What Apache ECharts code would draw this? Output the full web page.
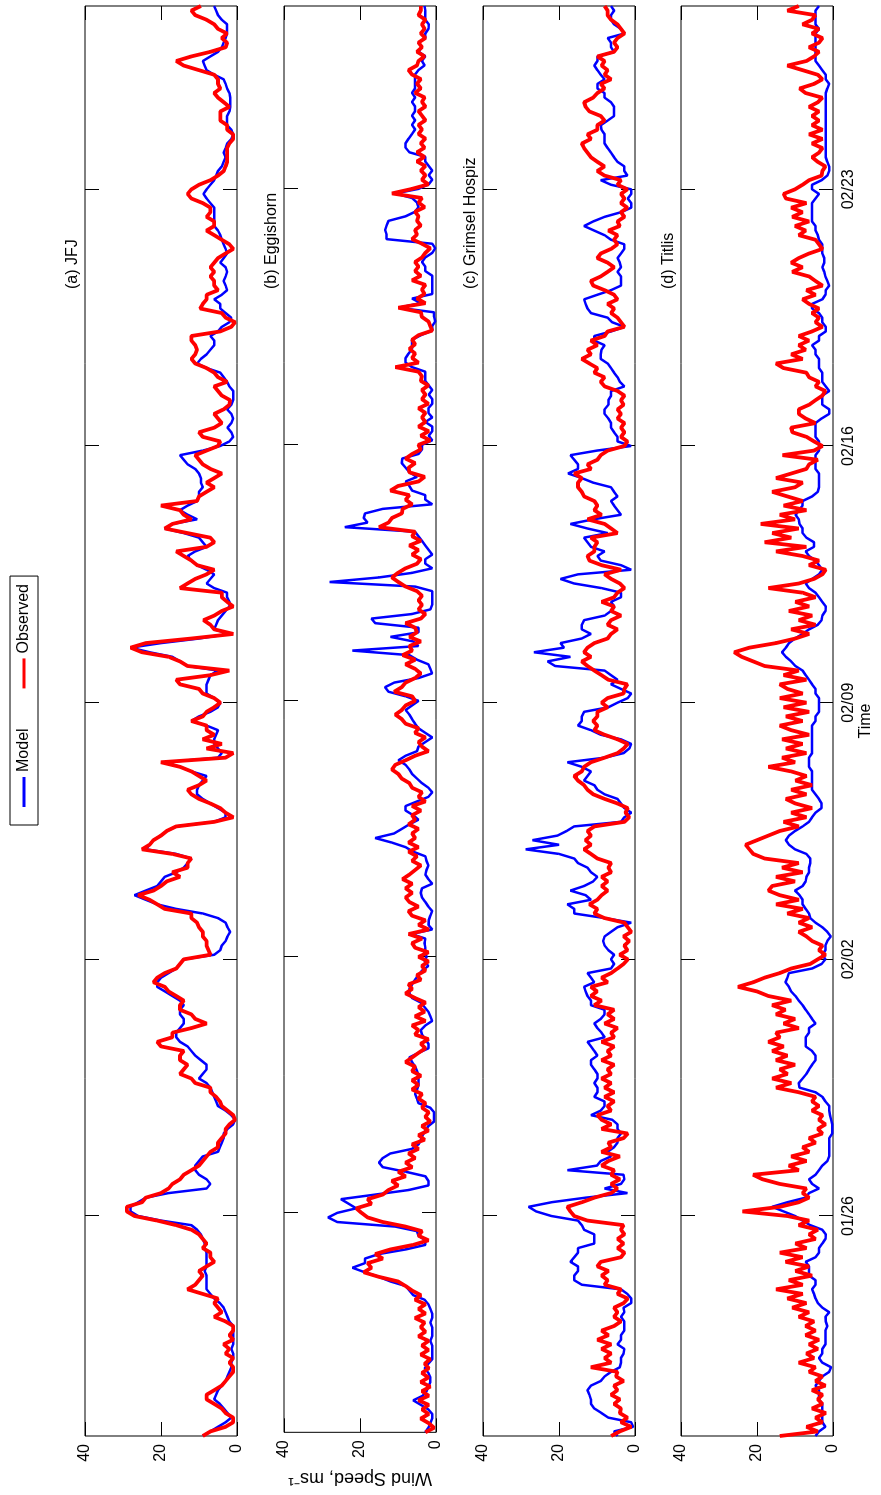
<!DOCTYPE html>
<html>
<head>
<meta charset="utf-8">
<title>Wind speed: model vs observed</title>
<script src="https://cdn.jsdelivr.net/npm/echarts@6/dist/echarts.min.js"></script>
<style>
html, body { margin: 0; padding: 0; background: #fff; }
body { width: 881px; height: 1495px; overflow: hidden; position: relative; }
/* the figure is drawn landscape and turned a quarter turn, like the printed page */
#main { position: absolute; left: 0; top: 0; width: 1495px; height: 881px;
  transform-origin: 0 0; transform: translate(0px, 1495px) rotate(-90deg); }
</style>
</head>
<body>
<div id="main"></div>
<script>
var FONT = '"Liberation Sans", Arial, Helvetica, sans-serif';
var STEP = 3; // hours between samples, starting 01/20 00:00

var tickHours = [144, 312, 480, 648, 816];
var tickLabels = ['01/26', '02/02', '02/09', '02/16', '02/23'];
var stations = ['(a) JFJ', '(b) Eggishorn', '(c) Grimsel Hospiz', '(d) Titlis'];

// (a) JFJ
var jfjModel = [
9,7,5,3,1.5,2.5,3.5,4.5,
6,5.5,5,4,3,2.5,2,1.5,
1.5,1,1,1.5,1,1,1,1,
1,2,2.5,3,3.5,4.5,6,7,
8,8,8,8,8.5,8,8,8,
8,8.5,8.5,9,9.5,10.5,12,20,
26,28,28,26,24,18,8,7,
8,10,11,11,10,9,5,4.5,
4,3.5,3.5,2.5,1,0.5,1.5,3,
5,5.5,6,6.5,7,8,10,9,
8,8,9.5,11,12,13,15,16,
16,15,14,14,15,15,14,15,
17,19,21,21,20,18,16,15,
14,6,4.4,4,3,2.5,1.8,2.5,
3,5,9,16,21,24,27,24,
21,20,19,16,14,13,12,16,
24,23,22,20,18.5,16,6,3,
3,5,7,9,10.5,10.5,10,9,
8,12,15,19,5,4,5,6,
6,5.5,5,8,12,10,7,5,
4.4,6,8,8,8,7.5,7,5,
13,15,17,23,28,20,10,2,
6,5.5,5,4,3,2,2,2.6,
2.6,6,8,7,6,8,10.5,12,
13,11,8,9,10,14,19,17,
10.5,13,15,13,10.5,10,10,9,
9.5,9.5,10,11,13,14,15,9,
4.4,2,1,1.5,2.5,1.5,1,1.5,
2.6,1.5,1,1,1,2,2.6,3.5,
4.4,8,10.5,9.5,8,7,6,6,
7,5,4,2,1.5,3,4.4,4.4,
6,4,2.6,3,3.5,3,2.6,3,
4.4,3.5,2.6,3,3.5,4,4.4,5,
6,6,6,6,6,7,8,8.8,
8,7,6,5.5,5,4,3.5,3,
3.5,3,2.6,1.5,1,1.5,2.6,2.6,
2.6,2,1.8,1.8,1.8,2,2.6,3,
3.5,6,8,8.5,9,7,5,4,
3.5,3,2.6,2.6,2.6,4,5,5.5,6
];
var jfjObs = [
9,7,3,1,1,3,4,6,
8,8,6,4,3,2,1,1,
2,1,3,2,3.5,1,2,1,
1,3,6,4,5,6,5,9,
13,11,10,9,10,8,6,7,
7,9,8,9,10,12,16,21,
27,29,29,25,24,20,18,17,
15,14,12,10,9,8,7,5,
5,4,3,3,2,0.5,1,2.5,
4,4.5,5.5,7,7,11,12,15,
14,13,15,15,14,20,21,17,
17,12,8,11,12,15,15,14,
16,18,19,22,21,19,16,15,
14,7,7.5,8,8,9,9,10,
10.5,12,12,19,21,23,26,22,
20,18.5,15,17,13,13,12,17,
25,23,22,20,18.5,16,6,1,
3,4.4,7,10,12,13,10,8,
10,12,15,20,3,1,8,4,
9,6,8,8,12,9,8,6,
4.4,6,9,10,15,16,7,2,
13,15,18,25,28,24,12,1,
6,7,8.8,6,4,1,2.6,4,
4,15,13,11,8,6,10.5,12,
14,16,8,6,7,13,19,17,
12,14,15,20,10.5,10,8,6,
8,6,4,7,9,10,11,8,
5,4.4,9,10,6,4,5,6,
3.5,2,1.8,4,5,6,2.6,5,
6,8,11,12,11,10.5,11,12,
12,4.4,1.5,0.5,3,4,9.7,9,
8,8,5,6,6,7,6,7,
6,5,3,1,2,4,6,8,
6,6,8,7,7,9,12,13,
12,10,7,5,3.5,3,2.6,2.6,
2.6,2.6,2,1,1,2.6,2.6,4.4,
4.4,4.4,2,3.5,5,6,4.4,5,
5,6,10,14,16,12,7,3,
2.6,4,2.6,5,6,8,11,12,9.5
];

// (b) Eggishorn
var eggModel = [
2.8,2,1.5,1,1,2,4,6,
3.5,2.5,2,1.5,1.5,2,3,2,
1,1,1,1,1.5,1,1,1,
1.5,1,1,1.5,2,3,6,7,
8,12,15,18.7,22,18.7,18.7,15,
8,2.8,2.8,4.6,5,10.7,26,28.4,
26,21,23,25,16,7.2,2,2,
2.8,8,14,15,14,12,6.3,4.6,
4,3.5,2.8,2,0.5,0.5,0.5,1.5,
4.6,5,5.5,5,4.6,4.6,4.6,5,
5.5,6.3,7,4.6,2,2,2.8,3.7,
4,2.8,1,1.5,2,3,4,6.3,
7,7,6.3,5.5,4.6,3.7,2,3,
2.5,2.8,2.8,3,2.8,6.5,1,2,
1.9,1.5,1,2,2.8,3.7,4,3.7,
1,2,2.8,2.5,2,2.5,2.8,6,
8,11.6,16,11,9,7,4.6,6,
8,8,5,2,1,2,3.7,5,
6.3,7,8,9.9,8,5,4.6,2.8,
1,2.8,4.6,5.5,6.3,7,8,6.3,
4.6,8,12.5,13.4,11,4.6,1,1.5,
2,5,7,22,4.6,6,12,4.6,
4.6,16,17,6.3,1.5,1,1,1,
1,5.5,28,15,6.3,1,2.8,2.8,
1,1.9,2.8,3.7,4.6,5.5,24,18,
19,18.7,14,1,2.8,2.8,6.3,7,
8,5,7,8,9,8.9,4.6,3.7,
3.7,1,1.9,1,1,2.8,1,2,
2,1,1,1.9,1,1.9,2.8,2.8,
2.8,6.3,8,8,7.2,6.3,6.3,6.3,
4,1,1,0.2,0.5,0.5,9.9,4,
6.3,1,1,1,1,1,2.8,2.8,
3.7,2.8,1,0.2,1,13,13,13.4,
13,12.5,8,5.5,4.6,5,6.3,10.7,
4.6,1.9,1,1.9,1,1.9,2.8,2.8,
7,8,8,7.2,6.3,5.5,6.3,5.5,
6.3,5.5,5.5,6.3,5.5,6.3,5.5,5.5,
5.5,5.5,4.6,3,3.7,2.8,4.6,3.7,
4.6,2.8,2.8,2,1.9,2.8,2.8,2.8,3
];
var eggObs = [
2.8,0.5,1.9,4,1.9,3.7,1.9,4.6,
1.9,3.7,1.5,4,2,3.7,1.9,3,
1.5,4,2,3.7,1.9,4.6,2.8,4,
3,5.5,2.8,4.6,2.8,5.5,4,6.3,
8,10,15,19,17,18,14,16,
12,6,2,4.6,3.7,8,14,18,
19.6,21,17,18,14,12.5,10,11.6,
8,9.9,6.3,8,5.5,7.2,4.6,6.3,
3,4.6,2,3.7,1.5,2.8,1.9,3.7,
2.8,4.6,3.7,6.3,4.6,6.3,4,6.3,
5.5,8,6.3,4.6,2.8,4,2,5.5,
4.6,6.3,2.8,5.5,3,4.6,2.8,5.5,
8,6.3,7.2,4,5,2.8,3.7,2,
4.6,2,5.5,6.3,3.7,7.2,1.9,4.6,
2.8,6.3,7.2,4.6,7,8,6.3,8,
6.3,8.8,7,5.5,4,6.3,5,7.2,
4.6,7.2,5.5,6.3,4.6,7.2,5.5,6.3,
4,6.3,2.8,4.6,3.7,6.3,7,9,
9.9,11.6,10.7,8,5.5,2,3.7,4.6,
2.8,5.5,4.6,8,9,10.7,9,8,
5.5,6.3,11,9,8,5.5,4,5.5,
8,5.5,8.8,6.3,7,4,7,5,
5.5,8,4,2.8,4.6,3.7,4.6,3.7,
5,8,9.9,11.6,10,8,5,4,
6.3,4.6,7,4,6.3,5.5,15,12.5,
11.6,9,8.8,6.3,8,7,12,10,
4.6,3,7,7.2,5.5,8,6.3,4,
4.6,1.5,4,1.9,4.6,2.8,3.7,2.8,
4.6,2,3.7,2.8,3.7,2,4,3.7,
4.6,10.7,4.6,6.3,5.5,7,5.5,6.3,
4.6,1,1.5,2,3.7,4,9.9,2.8,
5,3,3.7,2.8,6.3,4,5.5,4.6,
5.5,3.7,2.8,1.5,3.7,6.3,5,5.5,
4,5,4.6,5.5,3,4.6,3.7,11.6,
6.3,2,3.7,2.8,4,2.8,5,3,
5,3,4,2.8,4.6,3.7,4.6,2.8,
3.7,4.6,2.8,3.7,3,5.5,4,5,
4,6.3,7.2,5,4.6,3,5,3.7,
4.6,2.8,4,3,3.7,2.8,4.6,4,4
];

// (c) Grimsel Hospiz
var grimModel = [
4.6,5.5,0.5,1,7,8.8,10.7,11.6,
11.6,12,12.5,11.6,9,8,6.3,4,
3.7,3.7,3,2.8,4.6,3.7,3.7,2.8,
2.8,2.8,3.7,2.8,3,1,1,2,
3.7,14,16,16,15,15,17,16,
15,15,10.7,10.7,10.7,13.4,14,15,
22,26,28,22,13,2,8,3.7,
2.8,3,17.8,10,9,6.3,7.2,5.5,
4.6,4.6,3.7,4.6,4.6,6,11.6,9,
8,8,10.7,9.9,9.9,10.7,9.9,9.9,
10.7,11.6,11.6,9.9,10.7,11.6,12.5,8,
8.8,9.9,10.7,9,8,8,11.6,11.6,
12.5,13,13.4,10.7,11.6,12.5,6.3,5.5,
6.3,5.5,7,8,8.4,8,6.3,4.6,
1,8,16,16,17.8,11.6,13,17,
13.4,11,9.9,11.6,12.5,15,16,20,
28.8,20,27,20.4,18,16,3.7,2.8,
1,2.8,3.7,4.6,8,9.9,10.7,13.4,
12.5,11.6,14,17.8,8,3,1.5,1,
3.7,9,11.6,15,14,14,13.4,7,
4.6,1.9,1,3.7,6.3,4.6,6.3,8,
21,23,17,26.6,18.7,19.6,14,11.6,
14,14,13.4,8,6.3,5.5,6.3,3.7,
3.7,8.8,16,19.6,15,1,3.7,9,
9.9,8,11.6,12.5,13.4,7.2,12.5,17,
11,3.7,4.6,5.5,6.3,4.6,5.5,6.3,
11,14,17.6,15,15,16,17,10,
1,4.6,4.6,5.5,6.3,6.3,7,8,
8,7,7,6.3,6.3,2.8,4,4.6,
5.5,6.3,7.2,9,9,8.8,8,10.7,
10.7,6.3,2.8,6,7.2,11.6,12.5,13,
13.4,9.9,6.3,3.7,3.7,3.7,4.6,3.7,
4,4.6,3.7,2.8,2.8,6.3,8,10.7,
13.4,11,8,3.7,1,1,1.9,1,
1,6.3,9,2,2.8,2.8,4.6,5.5,
6.3,7.2,8,8,8,8.8,9,7.2,
5.5,5.5,5.5,6.3,8,8,9.9,9.9,
8,9,9.9,10.7,9.9,9.9,5.5,6.3,
6.3,7.2,2.8,3.7,5.5,6.3,6.3,5.5,6.3
];
var grimObs = [
6.3,4,1,3.7,2,4,3.7,5.5,
4,6.3,4.6,5.5,3,5,4.6,11.6,
6.3,8,6.3,8.8,6.3,9.9,7,8.8,
5.5,3.7,5.5,4.6,5.5,3,1.9,4.6,
3.7,8,7.2,8.8,7,9.9,9,3.7,
2.8,4.6,3,4.6,2.8,3.7,3,12.5,
16,17,17.8,14,10.7,6.3,4.6,6.3,
4,6.3,5.5,8.8,7,4,8.8,6.3,
7,3,1.9,8.8,6.3,8.8,9.9,6.3,
7.2,5.5,8,5.5,8,6.3,8.8,6.3,
7.2,5.5,8.8,6.3,7.2,5.5,8.8,5.5,
6.3,4.6,8,5.5,7.2,5.5,10.7,8.8,
11.6,10,11.6,7.2,8.8,6.3,4.6,3,
1.9,4,2,2.8,1.5,3,1,1.9,
2.8,8,10.7,9.9,12,9.9,8.8,7.2,
8.8,7.2,8.8,6.3,7,6.3,9.9,11.6,
13.4,11.6,13,11.6,12.5,10.7,2.8,1.5,
2.5,1.9,4.6,8,11,12.5,13.4,15,
16,14,13.4,11.6,8,4.6,3,1.9,
4.6,8,10.7,9.9,11,9.9,9.9,7.2,
8.8,7.2,3,2.8,2,7,8.8,10.7,
12.5,14,11.6,13.4,12.5,10.7,7.2,6.3,
4.6,7.2,6.3,3.7,6.3,5.5,8.8,5.5,
4.6,2.8,4,6.3,8,3.7,8.8,12,
12.5,10.7,10.7,9.9,11.6,4.6,6.3,8,
12.5,8.8,10.7,9.9,10.7,13.4,14,15,
15,14,16,11.6,12.5,9.9,9,7.2,
2.8,2,3.7,2.8,3.7,2.8,4.6,3.7,
4.6,3,3.7,2.8,4.6,8,9,8,
10.7,9.9,12,14,11.6,12.5,9.9,11.6,
8,7.2,2.8,3.7,4.6,6.3,5.5,7.2,
4.6,5.5,8,11,11.6,9,7.2,5.5,
7.2,9.9,9,6.3,4.6,5.5,4.6,7,
4,4.6,2.8,3.7,2,3.7,2.8,3.7,
2,4.6,3.7,8,9.9,8,9.9,11.6,
12.5,13.4,14,11.6,12.5,9.9,9.9,8,
9,12,13,13.4,11,9.9,8,9,
6.3,8,7.2,8.8,8,9.9,5.5,4.6,
5.5,4.6,2.8,3.7,4.6,6.3,7.2,7.2,8
];

// (d) Titlis
var titModel = [
4.6,3.7,2,2.8,2.8,2.8,2.8,2.8,
3.7,3.7,3.7,4.6,3.7,2.8,1,0.5,
2.8,3.7,2.8,2.8,2,2,2,2,
1.5,1.9,2,1,2.8,4,4.6,5,
5.5,4.6,4.6,6.3,6.3,6.3,7.2,4.6,
3.7,3.7,2.8,2,1.9,2.8,6,8,
10,13,16,12,7.2,6.3,3.7,5.5,
6.3,4.6,3.7,2.8,1.5,1,1,1,
1,1,0.2,0.2,0.2,0.5,0.8,1,
1,2,2.8,4.6,8.8,9,8,7,
6.3,5.5,4.6,4.6,5.5,7.2,7.2,7.2,
6.3,6.3,4.6,5.5,6.3,7.2,8,9,
9.9,11,11.6,12.5,12,11.6,5.5,3,
2,2.8,2,2,1.5,0.6,1.5,2.8,
4.6,6,6.3,7.2,8,8,8.8,10,
8,7.2,7,6.3,6.3,6,6,7,
10,11.6,12.4,11.6,10,8,6.3,5.5,
4.6,3,3,3.7,4.6,5.5,5.5,5.5,
5.5,5.5,6.3,6.3,6.3,5.5,5.5,5.5,
5.5,5.5,5.5,5.5,4.6,4.6,3.7,3.7,
3.7,3.7,4.6,4.6,5.5,6.3,7.2,8,
9.9,11,12.4,13.4,12.4,11.6,10,8,
6.3,4,3,2.8,2,1.9,2.8,3.7,
4.6,6.3,7.2,5.5,3.7,2.8,3.7,4.6,
6.3,7.2,5,5,7,8,8,8.8,
9,9.9,9,8,8,5.5,4,3.7,
3.7,3.7,3.7,4.6,4.6,4.6,4.6,3.7,
3.7,3.7,4.6,4.6,4.6,4.6,3,1,
1,2.8,2.8,2.8,1,1.9,2.8,2.8,
2.8,3.7,3.7,3.7,4.6,4.6,5.5,3.7,
3.7,1.9,1.9,2.8,2.8,3.7,5.5,5.5,
2.8,2,1.9,1,1.5,2,2.3,2.8,
2.3,2.3,2.8,2.8,2.8,3.7,4,4.6,
4.6,5.5,5.5,5.5,5.5,5.5,4.6,3.7,
5.5,5.5,3,1.5,1,1,1.5,1.9,
1.9,1.9,1.9,1.9,1.9,1.9,1.9,1.9,
1.9,1.9,1.9,1.9,1.9,1.9,1.5,1,
1.9,1.9,2.8,3.7,4.6,4.6,4.6,4.6,
4.6,4.6,4.6,3.7,4.6,4.6,4.6,4.6,3.7
];
var titObs = [
14,4,7,2.8,4.6,1.9,5.5,2.8,
4,2.8,5.5,2,4.6,2.8,6.3,4.6,
9,5,7,4,6.3,3.7,7.2,4.6,
7.2,5,9,6.3,10.7,7,12,8,
15,8,11.6,5.5,9.9,6.3,12.5,8,
14,7,9.9,4.6,6.3,4,9,6.3,
12,23.8,14,9,6.3,8,7,14,
18.5,21,9,11.6,7,11,6.3,8,
4.6,6.3,2.8,4,2,3.7,2.8,5.5,
3.7,5.5,4.6,9,15,11,16,12,
14,10,15,12,16,13,17,14,
15,9,13,10,15,12.5,16,11,
17,20,25,21,18,14,11,6,
4,2,3.7,2.8,5.5,7,9,5.5,
9,6.3,12,8,15,9,14,17,
16,10,15,8,13.4,9,18,21,
22,23,20,17,14,9,13,7,
11,5.5,9.9,12.4,7,11,5.5,9.9,
7,11,17,10,13.4,7,12.4,8,
13.4,6.3,11,14,8,12.4,6.3,13,
7,14,8,12,14,7,13,9,
18,21,24,26,22,15,9.9,6.3,
11,4.6,9,5.5,11.6,6.3,9.9,4.6,
8,17,9,5,2.8,1.9,6.3,3.7,
8,15,7,18,11,16,9,19,
10,14,7,13,8,12,16,10,
8,15,11,7,6.3,4,13.3,5,
2.8,5,7,10.7,11,4.6,7.2,9,
9,6.3,4.6,2.8,2,4.6,3.7,6.3,
7,13,15,8,11,7.2,9,6.3,
9,5.5,2.8,4.6,3.7,5.5,3.7,6.3,
8,4.6,7,2.8,4.6,6.3,10.7,8,
11,9,6.3,2.8,3.7,4.6,9,7.2,
10,6.3,10.7,8,11,7,12.4,13,
10,8,6.3,3,2.8,2,4,5.5,
3.7,2.8,5.5,2.8,6.3,2.8,5.5,3.7,
5.5,3.7,6.3,4,2.8,7.2,8.8,5,
2.8,4,8,12,7,5,3.7,6.3,
3.7,2.8,5.5,3.7,8,5.5,4.6,12,9
];

var panels = [
  [jfjModel, jfjObs],
  [eggModel, eggObs],
  [grimModel, grimObs],
  [titModel, titObs]
];

function toPoints(vals) {
  return vals.map(function (v, i) { return [i * STEP, v]; });
}

var gridTops = [85, 284, 483, 681];
var GRID_LEFT = 59, GRID_W = 1430, GRID_H = 152;
var T_MAX = 936;

var grids = [], xAxes = [], yAxes = [], series = [], graphics = [];
var tickStyle = { inside: true, length: 14, lineStyle: { color: '#000', width: 1 } };
var noLine = { show: false, onZero: false };

panels.forEach(function (p, i) {
  var last = (i === panels.length - 1);
  grids.push({
    left: GRID_LEFT, top: gridTops[i], width: GRID_W, height: GRID_H,
    show: true, borderColor: '#000', borderWidth: 1, backgroundColor: 'transparent'
  });
  xAxes.push({
    gridIndex: i, type: 'value', min: 0, max: T_MAX, position: 'bottom',
    axisLine: noLine, splitLine: { show: false },
    axisTick: Object.assign({ customValues: tickHours }, tickStyle),
    axisLabel: {
      show: last, customValues: tickHours, margin: 8,
      fontSize: 16, color: '#000', fontFamily: FONT,
      formatter: function (v) { return tickLabels[tickHours.indexOf(v)]; }
    },
    name: last ? 'Time' : '', nameLocation: 'middle', nameGap: 25,
    nameTextStyle: { fontSize: 16, color: '#000', fontFamily: FONT }
  });
  xAxes.push({
    gridIndex: i, type: 'value', min: 0, max: T_MAX, position: 'top',
    axisLine: noLine, splitLine: { show: false },
    axisTick: Object.assign({ customValues: tickHours }, tickStyle),
    axisLabel: { show: false }
  });
  yAxes.push({
    gridIndex: i, type: 'value', min: 0, max: 40, interval: 20, position: 'left',
    axisLine: noLine, splitLine: { show: false },
    axisTick: tickStyle,
    axisLabel: { margin: 8, fontSize: 16, color: '#000', fontFamily: FONT },
    name: i === 1 ? 'Wind Speed, ms\u207B\u00B9' : '',
    nameLocation: 'middle', nameGap: 31,
    nameTextStyle: { fontSize: 18, color: '#000', fontFamily: FONT }
  });
  yAxes.push({
    gridIndex: i, type: 'value', min: 0, max: 40, interval: 20, position: 'right',
    axisLine: noLine, splitLine: { show: false },
    axisTick: tickStyle, axisLabel: { show: false }
  });
  series.push({
    name: 'Model', type: 'line', xAxisIndex: 2 * i, yAxisIndex: 2 * i,
    data: toPoints(p[0]), symbol: 'none', showSymbol: false,
    color: '#0000ff', lineStyle: { color: '#0000ff', width: 2.5 }, z: 2
  });
  series.push({
    name: 'Observed', type: 'line', xAxisIndex: 2 * i, yAxisIndex: 2 * i,
    data: toPoints(p[1]), symbol: 'none', showSymbol: false,
    color: '#ff0000', lineStyle: { color: '#ff0000', width: 3.8 }, z: 3
  });
  graphics.push({
    type: 'text', x: 1206, y: gridTops[i] - 12,
    style: {
      text: stations[i], fill: '#000', font: '16px ' + FONT,
      textAlign: 'left', textVerticalAlign: 'middle', align: 'left', verticalAlign: 'middle'
    }
  });
});

var myChart = echarts.init(document.getElementById('main'), null, { renderer: 'canvas' });
myChart.setOption({
  animation: false,
  backgroundColor: '#fff',
  textStyle: { fontFamily: FONT },
  legend: {
    data: ['Model', 'Observed'],
    left: 670, top: 10,
    orient: 'horizontal',
    borderColor: '#000', borderWidth: 1,
    padding: [6, 8, 6, 18],
    icon: 'rect',
    itemWidth: 30, itemHeight: 3, itemGap: 40,
    textStyle: { fontSize: 16, color: '#000', fontFamily: FONT }
  },
  grid: grids,
  xAxis: xAxes,
  yAxis: yAxes,
  series: series,
  graphic: graphics
});
</script>
</body>
</html>
